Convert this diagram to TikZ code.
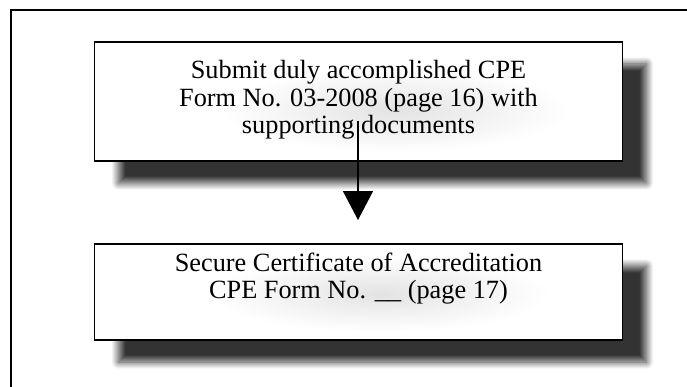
\documentclass[tikz,border=0pt]{standalone}
\usepackage{fontspec}
\setmainfont{Liberation Serif}
\usetikzlibrary{arrows.meta,shadows.blur}
\begin{document}
\begin{tikzpicture}[x=1pt,y=1pt,
  frame/.style={line width=2pt, draw=black},
  box/.style={draw=black, line width=1.8pt, fill=white, minimum width=528pt, inner sep=0pt,
    blur shadow={shadow xshift=24pt, shadow yshift=-22pt, shadow blur radius=7pt, shadow blur steps=14, shadow opacity=80}},
  haze/.style={inner color=black!11, outer color=white},
  txt/.style={font=\fontsize{26.3}{27.2}\selectfont, align=center, inner sep=0pt},
  flow/.style={line width=1.5pt, -{Triangle[width=30pt,length=29pt]}},
]
\useasboundingbox (0,0) rectangle (687,386);
\draw[frame] (11,-5) -- (11,375.5) -- (692,375.5);
% boxes
\node[box, minimum height=119pt] (b1) at (358.5,284.5) {};
\node[box, minimum height=96pt] (b2) at (358.5,94) {};
% soft haze behind texts
\shade[haze] (395,276) ellipse [x radius=175, y radius=42];
\shade[haze] (380,92) ellipse [x radius=170, y radius=38];
% texts
\node[txt] (t1) at (358.5,286.1) {Submit duly accomplished CPE\\Form No. 03-2008 (page 16) with\\supporting documents};
\node[txt] (t2) at (358.5,107.1) {Secure Certificate of Accreditation\\CPE Form No. \_\_ (page 17)};
% connector
\coordinate (a1) at (358,265);
\coordinate (a2) at (358,166);
\draw[flow] (a1) -- (a2);
\end{tikzpicture}
\end{document}
